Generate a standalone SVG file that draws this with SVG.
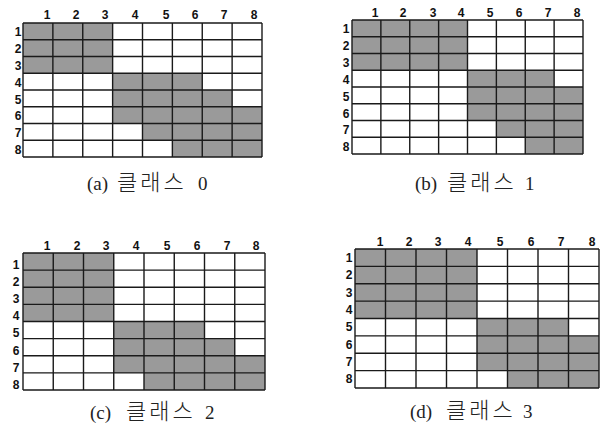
<svg xmlns="http://www.w3.org/2000/svg" xmlns:xlink="http://www.w3.org/1999/xlink" width="603" height="430" viewBox="0 0 603 430">
<style>
.bg{fill:#ffffff}
.sh{fill:#9a9a9a}
.gl{fill:none;stroke:#1a1a1a;stroke-width:1.4;vector-effect:non-scaling-stroke}
.lb{font-family:"Liberation Sans",Arial,sans-serif;font-weight:bold;font-size:12px;fill:#111;text-anchor:middle}
.cap{font-family:"Liberation Serif","Noto Sans CJK KR",serif;font-size:19px;fill:#222}
.ko{font-family:"Noto Sans CJK KR",sans-serif;font-size:22px;font-weight:300;letter-spacing:3px}
</style>
<defs>
<path id="grid" class="gl" d="M0 0H8M0 1H8M0 2H8M0 3H8M0 4H8M0 5H8M0 6H8M0 7H8M0 8H8M0 0V8M1 0V8M2 0V8M3 0V8M4 0V8M5 0V8M6 0V8M7 0V8M8 0V8"/>
</defs>
<rect width="603" height="430" fill="#ffffff"/>

<g id="grid-a">
<g transform="translate(23,23) scale(29.875,16.75)">
<rect class="bg" x="0" y="0" width="8" height="8"/>
<rect class="sh" x="0" y="0" width="3" height="3"/>
<polygon class="sh" points="3,3 6,3 6,4 7,4 7,5 8,5 8,8 5,8 5,7 4,7 4,6 3,6"/>
<use xlink:href="#grid"/>
</g>
<g class="lb">
<text x="47" y="19">1</text><text x="76" y="19">2</text><text x="105" y="19">3</text><text x="135" y="19">4</text><text x="166" y="19">5</text><text x="195" y="19">6</text><text x="224" y="19">7</text><text x="254" y="19">8</text>
<text x="18" y="36">1</text><text x="18" y="53">2</text><text x="18" y="70">3</text><text x="18" y="87">4</text><text x="18" y="104">5</text><text x="18" y="120">6</text><text x="18" y="137">7</text><text x="18" y="154">8</text>
</g>
<text class="cap" x="87" y="190">(a) <tspan class="ko" x="117">클래스</tspan> <tspan x="198">0</tspan></text>
</g>

<g id="grid-b">
<g transform="translate(352,20) scale(28.875,16.75)">
<rect class="bg" x="0" y="0" width="8" height="8"/>
<rect class="sh" x="0" y="0" width="4" height="3"/>
<polygon class="sh" points="4,3 7,3 7,4 8,4 8,8 6,8 6,7 5,7 5,6 4,6"/>
<use xlink:href="#grid"/>
</g>
<g class="lb">
<text x="375" y="17">1</text><text x="403" y="17">2</text><text x="433" y="17">3</text><text x="461" y="17">4</text><text x="490" y="17">5</text><text x="519" y="17">6</text><text x="548" y="17">7</text><text x="577" y="17">8</text>
<text x="346" y="33">1</text><text x="346" y="50">2</text><text x="346" y="67">3</text><text x="346" y="84">4</text><text x="346" y="101">5</text><text x="346" y="118">6</text><text x="346" y="134">7</text><text x="346" y="151">8</text>
</g>
<text class="cap" x="415" y="190">(b) <tspan class="ko" x="447">클래스</tspan> <tspan x="525">1</tspan></text>
</g>

<g id="grid-c">
<g transform="translate(23,253) scale(30.25,17.125)">
<rect class="bg" x="0" y="0" width="8" height="8"/>
<rect class="sh" x="0" y="0" width="3" height="4"/>
<polygon class="sh" points="3,4 6,4 6,5 7,5 7,6 8,6 8,8 4,8 4,7 3,7"/>
<use xlink:href="#grid"/>
</g>
<g class="lb">
<text x="47" y="250">1</text><text x="77" y="250">2</text><text x="106" y="250">3</text><text x="136" y="250">4</text><text x="167" y="250">5</text><text x="197" y="250">6</text><text x="227" y="250">7</text><text x="256" y="250">8</text>
<text x="16" y="269">1</text><text x="16" y="286">2</text><text x="16" y="303">3</text><text x="16" y="320">4</text><text x="16" y="337">5</text><text x="16" y="355">6</text><text x="16" y="372">7</text><text x="16" y="389">8</text>
</g>
<text class="cap" x="90" y="419">(c) <tspan class="ko" x="126">클래스</tspan> <tspan x="205">2</tspan></text>
</g>

<g id="grid-d">
<g transform="translate(355,249) scale(30.5,17.375)">
<rect class="bg" x="0" y="0" width="8" height="8"/>
<rect class="sh" x="0" y="0" width="4" height="4"/>
<polygon class="sh" points="4,4 7,4 7,5 8,5 8,8 5,8 5,7 4,7"/>
<use xlink:href="#grid"/>
</g>
<g class="lb">
<text x="380" y="246">1</text><text x="409" y="246">2</text><text x="438" y="246">3</text><text x="468" y="246">4</text><text x="500" y="246">5</text><text x="531" y="246">6</text><text x="561" y="246">7</text><text x="592" y="246">8</text>
<text x="349" y="262">1</text><text x="349" y="279">2</text><text x="349" y="297">3</text><text x="349" y="314">4</text><text x="349" y="331">5</text><text x="349" y="349">6</text><text x="349" y="366">7</text><text x="349" y="383">8</text>
</g>
<text class="cap" x="410" y="418">(d) <tspan class="ko" x="446">클래스</tspan> <tspan x="523">3</tspan></text>
</g>
</svg>
